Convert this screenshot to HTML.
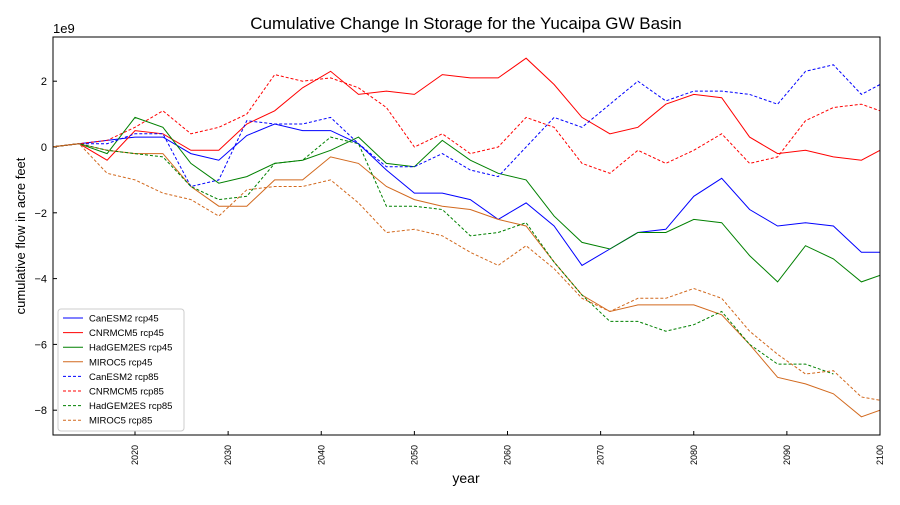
<!DOCTYPE html>
<html><head><meta charset="utf-8"><style>
body{margin:0;background:#fff;font-family:"Liberation Sans","DejaVu Sans",sans-serif}
svg text{font-family:"Liberation Sans","DejaVu Sans",sans-serif}
</style></head><body>
<svg id="chart" width="900" height="500" xmlns="http://www.w3.org/2000/svg">
<rect width="900" height="500" fill="#fff"/>
<text x="466" y="29" text-anchor="middle" font-size="17">Cumulative Change In Storage for the Yucaipa GW Basin</text>
<text x="53" y="33" font-size="13">1e9</text>
<text x="466" y="483" text-anchor="middle" font-size="14">year</text>
<text transform="translate(25,236) rotate(-90)" text-anchor="middle" font-size="13">cumulative flow in acre feet</text>
<g id="ticks"></g>
<g id="series" clip-path="url(#clip)"></g>
<clipPath id="clip"><rect x="53" y="37" width="827" height="398"/></clipPath>
<rect x="53" y="37" width="827" height="398" fill="none" stroke="#000" stroke-width="1"/>
<g id="legend"></g>
</svg>
<script>
const years=[2011,2014,2017,2020,2023,2026,2029,2032,2035,2038,2041,2044,2047,2050,2053,2056,2059,2062,2065,2068,2071,2074,2077,2080,2083,2086,2089,2092,2095,2098,2100];
const canesm2_45=[0,0.1,0.2,0.3,0.3,-0.2,-0.4,0.35,0.7,0.5,0.5,0.1,-0.7,-1.4,-1.4,-1.6,-2.2,-1.7,-2.4,-3.6,-3.1,-2.6,-2.5,-1.5,-0.95,-1.9,-2.4,-2.3,-2.4,-3.2,-3.2];
const cnrm_45=[0,0.1,-0.4,0.5,0.4,-0.1,-0.1,0.7,1.1,1.8,2.3,1.6,1.7,1.6,2.2,2.1,2.1,2.7,1.9,0.9,0.4,0.6,1.3,1.6,1.5,0.3,-0.2,-0.1,-0.3,-0.4,-0.1];
const hadgem_45=[0,0.1,-0.2,0.9,0.6,-0.5,-1.1,-0.9,-0.5,-0.4,-0.1,0.3,-0.5,-0.6,0.2,-0.4,-0.8,-1.0,-2.1,-2.9,-3.1,-2.6,-2.6,-2.2,-2.3,-3.3,-4.1,-3.0,-3.4,-4.1,-3.9];
const miroc_45=[0,0.1,-0.1,-0.2,-0.2,-1.2,-1.8,-1.8,-1.0,-1.0,-0.3,-0.5,-1.2,-1.6,-1.8,-1.9,-2.2,-2.4,-3.5,-4.5,-5.0,-4.8,-4.8,-4.8,-5.1,-6.0,-7.0,-7.2,-7.5,-8.2,-8.0];
const canesm2_85=[0,0.1,0.1,0.4,0.4,-1.2,-1.0,0.8,0.7,0.7,0.9,0.1,-0.6,-0.6,-0.2,-0.7,-0.9,0.0,0.9,0.6,1.3,2.0,1.4,1.7,1.7,1.6,1.3,2.3,2.5,1.6,1.9];
const cnrm_85=[0,0.1,0.2,0.6,1.1,0.4,0.6,1.0,2.2,2.0,2.1,1.8,1.2,0.0,0.4,-0.2,0.0,0.9,0.6,-0.5,-0.8,-0.1,-0.5,-0.1,0.4,-0.5,-0.3,0.8,1.2,1.3,1.1];
const hadgem_85=[0,0.1,-0.1,-0.2,-0.3,-1.2,-1.6,-1.5,-0.5,-0.4,0.3,0.1,-1.8,-1.8,-1.9,-2.7,-2.6,-2.3,-3.5,-4.5,-5.3,-5.3,-5.6,-5.4,-5.0,-6.0,-6.6,-6.6,-6.9,null,null];
const miroc_85=[0,0.1,-0.8,-1.0,-1.4,-1.6,-2.1,-1.3,-1.2,-1.2,-1.0,-1.7,-2.6,-2.5,-2.7,-3.2,-3.6,-3.0,-3.7,-4.6,-5.0,-4.6,-4.6,-4.3,-4.6,-5.6,-6.3,-6.9,-6.8,-7.6,-7.7];
const xTicks=[2020,2030,2040,2050,2060,2070,2080,2090,2100];
const yTicks=[2,0,-2,-4,-6,-8];
const seriesNames=["CanESM2 rcp45","CNRMCM5 rcp45","HadGEM2ES rcp45","MIROC5 rcp45","CanESM2 rcp85","CNRMCM5 rcp85","HadGEM2ES rcp85","MIROC5 rcp85"];
const seriesData=[canesm2_45,cnrm_45,hadgem_45,miroc_45,canesm2_85,cnrm_85,hadgem_85,miroc_85];
const colors=["#0000ff","#ff0000","#008000","#d2691e","#0000ff","#ff0000","#008000","#d2691e"];
const NS="http://www.w3.org/2000/svg";
const X=y=>135+(y-2020)*9.3125;
const Y=v=>147-v*32.9;
const tk=document.getElementById('ticks');
xTicks.forEach(t=>{
 const l=document.createElementNS(NS,'line');
 
 
 l.setAttribute('x1',X(t));l.setAttribute('x2',X(t));l.setAttribute('y1',435);l.setAttribute('y2',431);l.setAttribute('stroke','#000');tk.appendChild(l);
 const tx=document.createElementNS(NS,'text');
 
 
 tx.setAttribute('transform',`translate(${X(t)+3},465) rotate(-90)`);tx.setAttribute('font-size','9');tx.textContent=t;tk.appendChild(tx);
});
yTicks.forEach(t=>{
 const l=document.createElementNS(NS,'line');
 
 
 l.setAttribute('x1',53);l.setAttribute('x2',57);l.setAttribute('y1',Y(t));l.setAttribute('y2',Y(t));l.setAttribute('stroke','#000');tk.appendChild(l);
 const tx=document.createElementNS(NS,'text');
 
 
 tx.setAttribute('x',47);tx.setAttribute('y',Y(t)+4);tx.setAttribute('text-anchor','end');tx.setAttribute('font-size','11');tx.textContent=t<0?'\u2212'+(-t):t;tk.appendChild(tx);
});
const sg=document.getElementById('series');
seriesData.forEach((d,i)=>{
 let p='';let first=true;
 d.forEach((v,j)=>{if(v===null)return;p+=(first?'M':'L')+X(years[j]).toFixed(1)+','+Y(v).toFixed(1);first=false;});
 const path=document.createElementNS(NS,'path');
 
 
 path.setAttribute('d',p);path.setAttribute('fill','none');path.setAttribute('stroke',colors[i]);path.setAttribute('stroke-width','1');
 if(i>=4)path.setAttribute('stroke-dasharray','3,2');
 sg.appendChild(path);
});
const lg=document.getElementById('legend');
const box=document.createElementNS(NS,'rect');


box.setAttribute('x',58);box.setAttribute('y',309);box.setAttribute('width',126);box.setAttribute('height',122);box.setAttribute('rx',3);box.setAttribute('fill','#fff');box.setAttribute('fill-opacity','0.8');box.setAttribute('stroke','#ccc');lg.appendChild(box);
seriesNames.forEach((n,i)=>{
 const y=318+i*14.6;
 const l=document.createElementNS(NS,'line');
 
 
 l.setAttribute('x1',63);l.setAttribute('x2',83);l.setAttribute('y1',y);l.setAttribute('y2',y);l.setAttribute('stroke',colors[i]);
 if(i>=4)l.setAttribute('stroke-dasharray','3,2');
 lg.appendChild(l);
 const t=document.createElementNS(NS,'text');
 
 
 t.setAttribute('x',89);t.setAttribute('y',y+3.5);t.setAttribute('font-size','9.5');t.textContent=n;lg.appendChild(t);
});
</script>
</body></html>
